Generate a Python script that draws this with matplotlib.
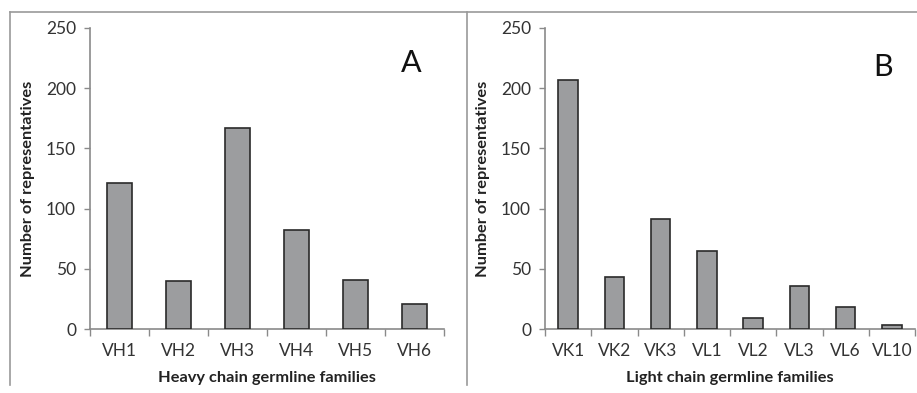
import matplotlib
matplotlib.use("Agg")
import matplotlib.pyplot as plt
from matplotlib.lines import Line2D
import numpy as np

heavy_families = ["VH1", "VH2", "VH3", "VH4", "VH5", "VH6"]
heavy_counts = [121, 40, 167, 82, 41, 21]
light_families = ["VK1", "VK2", "VK3", "VL1", "VL2", "VL3", "VL6", "VL10"]
light_counts = [207, 43, 91, 65, 9, 36, 18, 3]
y_ticks = [0, 50, 100, 150, 200, 250]

plt.rcParams['font.family'] = ['Lato', 'DejaVu Sans']

fig = plt.figure(figsize=(9.17, 3.93), dpi=100)

# outer frame lines
fc = "#9a9a9a"
fig.add_artist(Line2D([10/917, 10/917], [1-12/393, 1-385/393], color=fc, lw=1.2, transform=fig.transFigure))
fig.add_artist(Line2D([10/917, 1.0], [1-12/393, 1-12/393], color=fc, lw=1.2, transform=fig.transFigure))
fig.add_artist(Line2D([467/917, 467/917], [1-12/393, 1-385/393], color=fc, lw=1.2, transform=fig.transFigure))

axA = fig.add_axes([90/917, 1-329/393, 354/917, 301/393])
axB = fig.add_axes([545/917, 1-329/393, 370/917, 301/393])

def style(ax, cats, vals, xlabel, letter, letter_xy):
    x = np.arange(len(cats))
    ax.bar(x, vals, width=0.42, color="#9c9d9f", edgecolor="#2a2a2a", linewidth=1.2, zorder=3)
    ax.set_xlim(-0.5, len(cats) - 0.5)
    ax.set_ylim(0, 250)
    ax.set_yticks(y_ticks)
    ax.set_xticks(x)
    ax.set_xticklabels(cats)
    ax.set_xticks(np.arange(len(cats) + 1) - 0.5, minor=True)
    ax.tick_params(axis="x", which="major", length=0, pad=10, labelsize=12.5, colors="#333333")
    ax.tick_params(axis="x", which="minor", length=5, width=1, color="#8a8a8a", direction="out")
    ax.tick_params(axis="y", length=4, width=1, color="#8a8a8a", labelsize=12.5, labelcolor="#333333", pad=6)
    for s in ["top", "right"]:
        ax.spines[s].set_visible(False)
    for s in ["left", "bottom"]:
        ax.spines[s].set_color("#8a8a8a")
        ax.spines[s].set_linewidth(1.2)
    ax.set_xlabel(xlabel, fontsize=11.8, fontweight="bold", color="#222222", labelpad=9)
    ax.set_ylabel("Number of representatives", fontsize=11.8, fontweight="bold", color="#222222", labelpad=8)
    ax.text(letter_xy[0], letter_xy[1], letter, transform=ax.transAxes, fontsize=22, color="#111111",
            ha="center", va="center")

style(axA, heavy_families, heavy_counts, "Heavy chain germline families", "A", (0.906, 0.885))
style(axB, light_families, light_counts, "Light chain germline families", "B", (0.913, 0.870))

fig.savefig("out.png", dpi=100)
